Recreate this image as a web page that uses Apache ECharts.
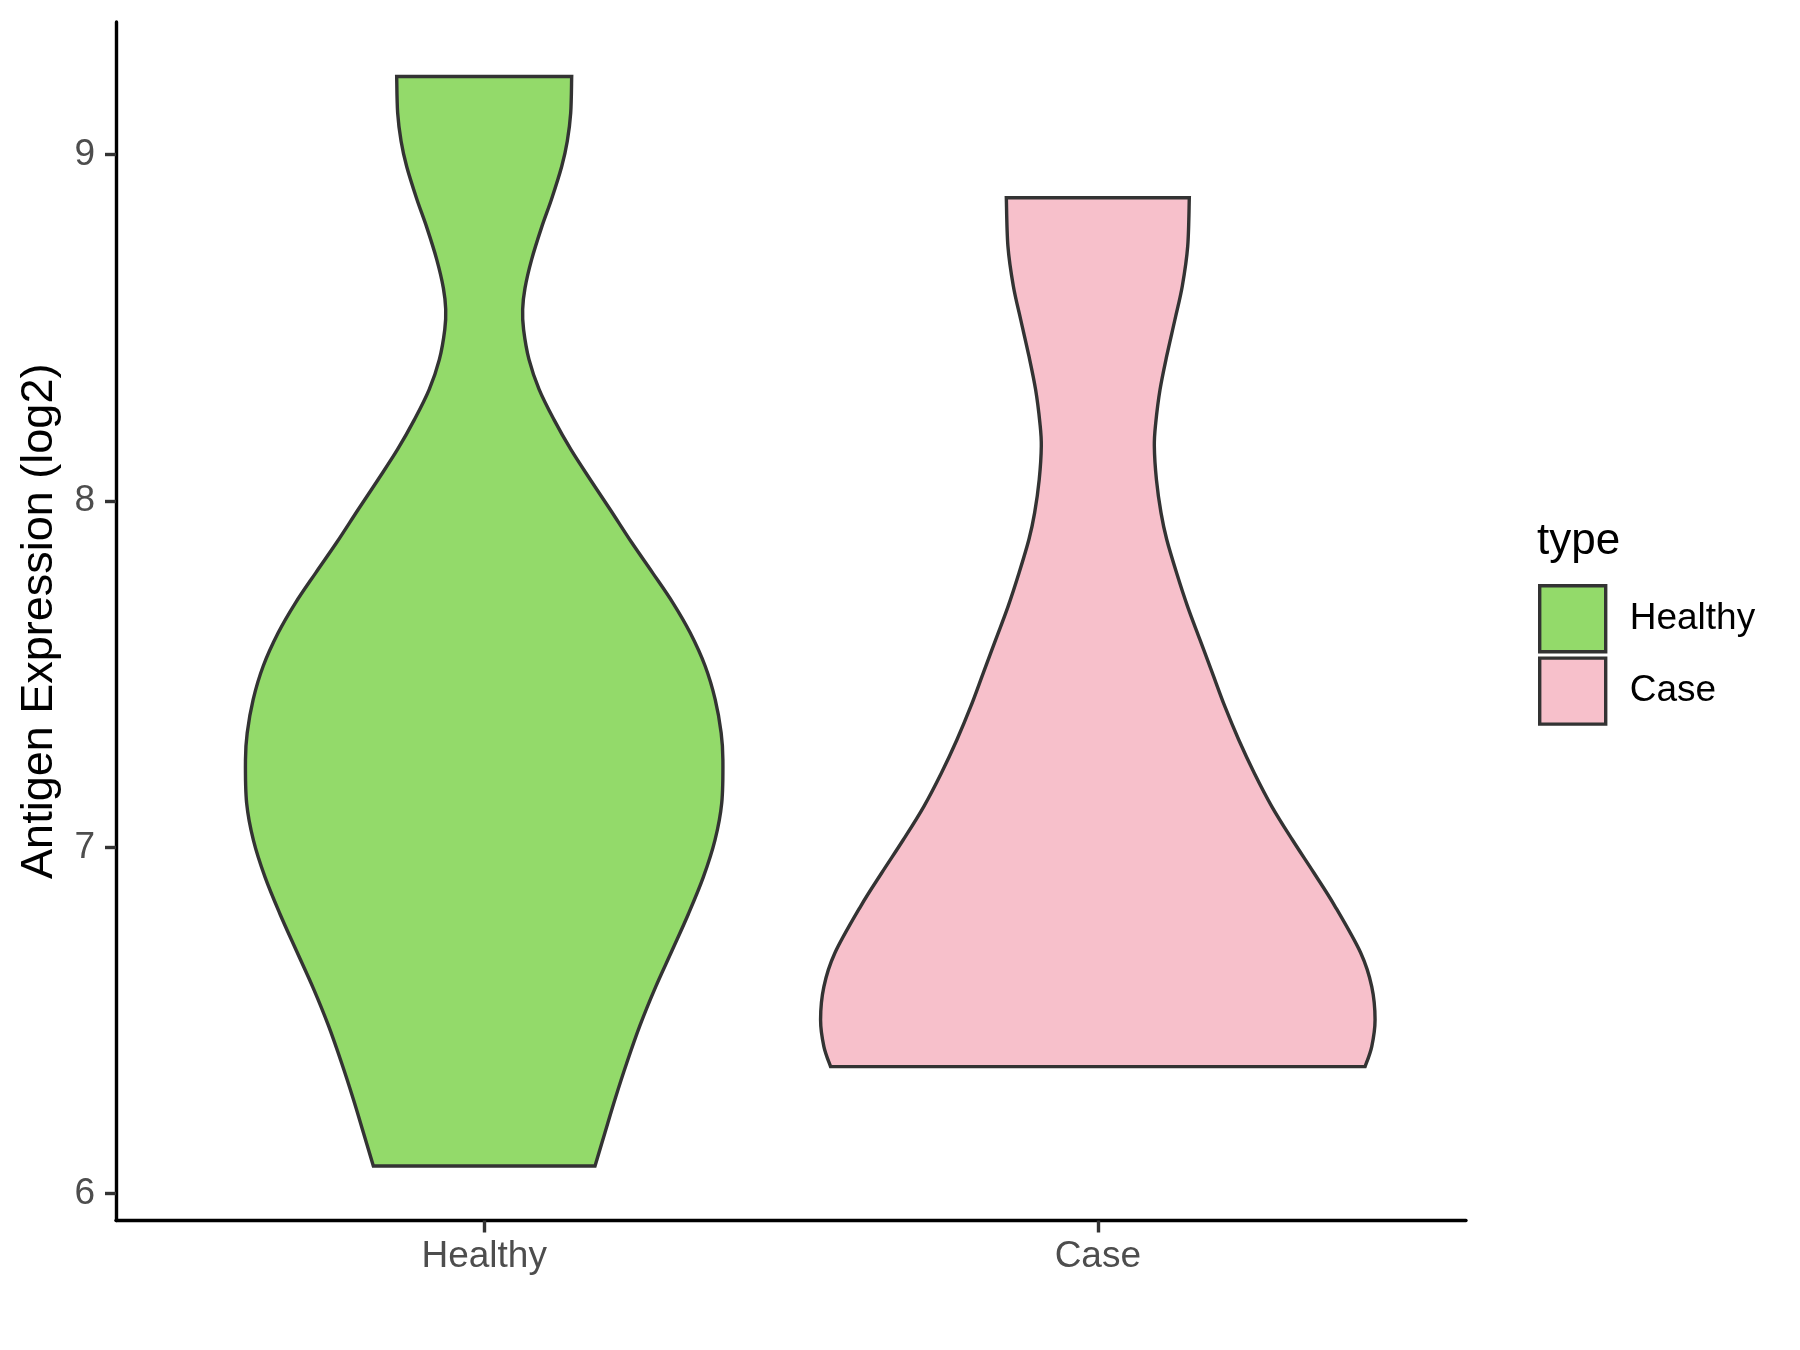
<!DOCTYPE html>
<html><head><meta charset="utf-8">
<script src="https://cdn.jsdelivr.net/npm/echarts@6/dist/echarts.min.js"></script>
<style>html,body{margin:0;padding:0;background:#fff}#c{width:1800px;height:1350px}</style>
</head><body><div id="c"></div>
<script>
// Categories and tick labels
const categories = ['Healthy', 'Case'];
const yTicks = [6, 7, 8, 9];
const legendTitle = 'type';
const yTitle = 'Antigen Expression (log2)';

// Violin profiles: expression value (log2) and half-width (in category units), bottom to top
const healthyY = [6.080, 6.177, 6.273, 6.379, 6.486, 6.593, 6.700, 6.807, 6.914, 7.021, 7.128, 7.2534, 7.3305, 7.4268, 7.5230, 7.6195, 7.7061, 7.7928, 7.8795, 7.9757, 8.0624, 8.1491, 8.2358, 8.3225, 8.409, 8.4955, 8.554, 8.615, 8.698, 8.791, 8.873, 8.966, 9.039, 9.121, 9.226];
const healthyW = [0.1806, 0.1969, 0.2132, 0.2326, 0.2539, 0.2784, 0.3056, 0.3326, 0.3571, 0.3761, 0.3871, 0.3890, 0.3862, 0.3765, 0.3602, 0.3357, 0.3075, 0.2745, 0.2407, 0.2053, 0.1728, 0.1412, 0.1135, 0.0895, 0.0730, 0.0642, 0.0627, 0.0665, 0.0774, 0.0937, 0.1100, 0.1263, 0.1354, 0.1410, 0.1426];
const caseY = [6.367, 6.425, 6.502, 6.598, 6.695, 6.830, 6.926, 7.022, 7.118, 7.215, 7.311, 7.407, 7.504, 7.600, 7.696, 7.793, 7.889, 7.966, 8.062, 8.159, 8.226, 8.322, 8.419, 8.525, 8.621, 8.736, 8.876];
const caseW = [0.4355, 0.4464, 0.4518, 0.4464, 0.4285, 0.3865, 0.3523, 0.3170, 0.2836, 0.2549, 0.2296, 0.2070, 0.1866, 0.1664, 0.1462, 0.1283, 0.1123, 0.1030, 0.0955, 0.0921, 0.0944, 0.1014, 0.1123, 0.1258, 0.1377, 0.1465, 0.1491];

const colors = ['#93DA6A', '#F7C0CB'];
const FONT = '"Liberation Sans", Arial, sans-serif';

const allY = healthyY.concat(caseY);
const dMin = Math.min.apply(null, allY), dMax = Math.max.apply(null, allY);
const pad = (dMax - dMin) * 0.05;

function catmull(pts) {
  let d = '';
  for (let i = 0; i < pts.length - 1; i++) {
    const p0 = pts[i - 1] || pts[i], p1 = pts[i], p2 = pts[i + 1], p3 = pts[i + 2] || pts[i + 1];
    const c1x = p1[0] + (p2[0] - p0[0]) / 6, c1y = p1[1] + (p2[1] - p0[1]) / 6;
    const c2x = p2[0] - (p3[0] - p1[0]) / 6, c2y = p2[1] - (p3[1] - p1[1]) / 6;
    d += ' C' + c1x + ',' + c1y + ' ' + c2x + ',' + c2y + ' ' + p2[0] + ',' + p2[1];
  }
  return d;
}

function violinSeries(name, idx, ys, ws, color) {
  const cx = idx + 1;
  return {
    name: name, type: 'custom', coordinateSystem: 'cartesian2d',
    data: ys.map(function (y, i) { return [cx, y, ws[i]]; }),
    encode: { x: 0, y: 1 },
    itemStyle: { color: color, borderColor: '#333333', borderWidth: 3.4 },
    renderItem: function (params, api) {
      if (params.dataIndex !== 0) return null;
      const right = ys.map(function (y, i) { return api.coord([cx + ws[i], y]); });
      const left = ys.map(function (y, i) { return api.coord([cx - ws[i], y]); }).reverse();
      const d = 'M' + right[0][0] + ',' + right[0][1] + catmull(right) +
        ' L' + left[0][0] + ',' + left[0][1] + catmull(left) + ' Z';
      return { type: 'path', shape: { pathData: d },
        style: { fill: color, stroke: '#333333', lineWidth: 3.4, lineJoin: 'miter' } };
    }
  };
}

const chart = echarts.init(document.getElementById('c'), null, { renderer: 'canvas' });
chart.setOption({
  backgroundColor: '#ffffff',
  animation: false,
  title: { text: legendTitle, left: 1537, top: 520, padding: 0,
    textStyle: { fontSize: 44, fontWeight: 'normal', color: '#000', fontFamily: FONT } },
  legend: {
    orient: 'vertical', left: 1538, top: 584, padding: 0,
    itemWidth: 66, itemHeight: 66, itemGap: 3,
    textStyle: { fontSize: 37, color: '#000', fontFamily: FONT, padding: [0, 0, 0, 19] },
    data: categories.map(function (c, i) {
      return { name: c, icon: 'rect', itemStyle: { color: colors[i], borderColor: '#333333', borderWidth: 3.4 } };
    })
  },
  grid: { left: 116, right: 334, top: 22, bottom: 129.5, containLabel: false },
  xAxis: {
    type: 'value', min: 0.4, max: 2.6,
    axisLine: { show: true, onZero: false, lineStyle: { color: '#000', width: 3.4 } },
    axisTick: { show: true, customValues: [1, 2], length: 12, lineStyle: { color: '#333', width: 3.4 } },
    axisLabel: { customValues: [1, 2], fontSize: 37, color: '#4d4d4d', fontFamily: FONT, margin: 18,
      formatter: function (v) { return categories[Math.round(v) - 1]; } },
    splitLine: { show: false }
  },
  yAxis: {
    type: 'value', min: dMin - pad, max: dMax + pad,
    name: yTitle, nameLocation: 'middle', nameGap: 54,
    nameTextStyle: { fontSize: 45, color: '#000', fontFamily: FONT },
    axisLine: { show: true, onZero: false, lineStyle: { color: '#000', width: 3.4 } },
    axisTick: { show: true, customValues: yTicks, length: 11, lineStyle: { color: '#333', width: 3.4 } },
    axisLabel: { customValues: yTicks, fontSize: 37, color: '#4d4d4d', fontFamily: FONT, margin: 21 },
    splitLine: { show: false }
  },
  series: [
    violinSeries('Healthy', 0, healthyY, healthyW, colors[0]),
    violinSeries('Case', 1, caseY, caseW, colors[1])
  ]
});
</script></body></html>
